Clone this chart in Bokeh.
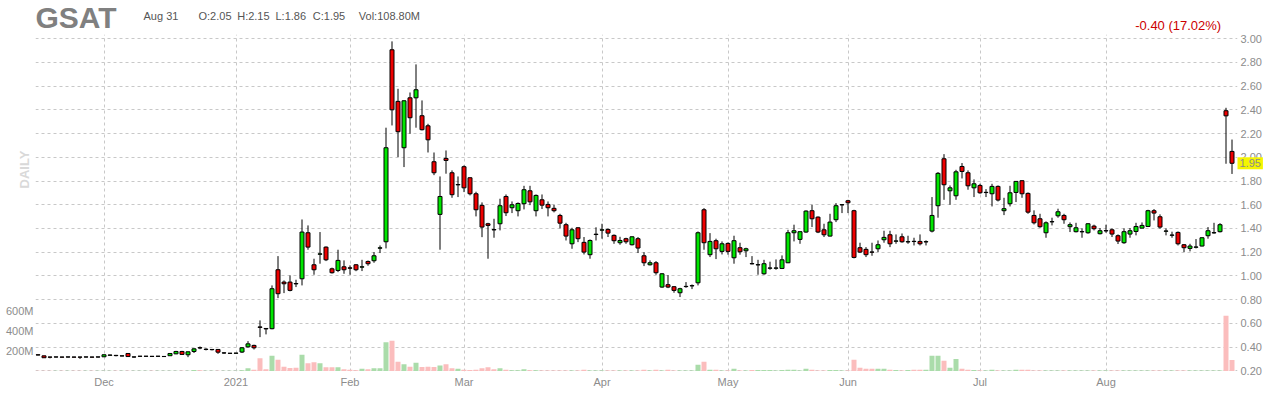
import numpy as np
import pandas as pd
from bokeh.plotting import figure
from bokeh.models import Range1d, LinearAxis, FixedTicker, CustomJSTickFormatter, PrintfTickFormatter, Label, GridBox
from bokeh.core.properties import value
from bokeh.embed import file_html
from bokeh.resources import INLINE

symbol = "GSAT"
holidays = ["2020-11-26", "2020-12-25", "2021-01-01", "2021-01-18",
            "2021-02-15", "2021-04-02", "2021-05-31", "2021-07-05"]
dates = pd.bdate_range("2020-11-13", "2021-08-31")
dates = dates[~dates.isin(pd.to_datetime(holidays))]

opens = [
    0.335, 0.326, 0.316, 0.316, 0.316, 0.316, 0.316, 0.316, 0.316, 0.316,
    0.316, 0.318, 0.331, 0.330, 0.325, 0.346, 0.316, 0.322, 0.322, 0.322,
    0.322, 0.320, 0.327, 0.343, 0.363, 0.335, 0.363, 0.395, 0.380, 0.378,
    0.380, 0.350, 0.347, 0.348, 0.358, 0.402, 0.414, 0.570, 0.557, 0.555,
    1.052, 0.948, 0.948, 0.936, 0.976, 1.364, 1.094, 1.183, 1.243, 1.060,
    1.046, 1.077, 1.068, 1.094, 1.074, 1.122, 1.128, 1.234, 1.288, 2.907,
    2.472, 2.081, 2.502, 2.502, 2.351, 2.266, 1.963, 1.519, 1.991, 1.870,
    1.768, 1.921, 1.828, 1.693, 1.595, 1.440, 1.391, 1.440, 1.670, 1.575,
    1.550, 1.609, 1.718, 1.550, 1.642, 1.603, 1.570, 1.510, 1.432, 1.271,
    1.406, 1.283, 1.179, 1.349, 1.386, 1.392, 1.342, 1.280, 1.314, 1.263,
    1.314, 1.170, 1.094, 1.111, 0.906, 0.926, 0.909, 0.858, 0.910, 0.916,
    0.942, 1.558, 1.179, 1.297, 1.207, 1.274, 1.153, 1.238, 1.212, 1.104,
    1.093, 1.018, 1.065, 1.065, 1.063, 1.111, 1.364, 1.308, 1.370, 1.550,
    1.496, 1.389, 1.336, 1.474, 1.599, 1.634, 1.550, 1.238, 1.224, 1.202,
    1.229, 1.305, 1.347, 1.293, 1.330, 1.287, 1.292, 1.291, 1.287, 1.378,
    1.592, 1.988, 1.718, 1.676, 1.923, 1.870, 1.743, 1.763, 1.703, 1.693,
    1.755, 1.550, 1.609, 1.704, 1.803, 1.696, 1.510, 1.482, 1.364, 1.456,
    1.507, 1.510, 1.415, 1.373, 1.372, 1.364, 1.420, 1.356, 1.380, 1.389,
    1.339, 1.280, 1.353, 1.375, 1.403, 1.417, 1.550, 1.499, 1.377, 1.343,
    1.367, 1.263, 1.232, 1.242, 1.252, 1.339, 1.363, 1.373, 2.393, 2.050,
]
highs = [
    0.338, 0.328, 0.318, 0.318, 0.318, 0.318, 0.318, 0.318, 0.318, 0.318,
    0.318, 0.338, 0.336, 0.334, 0.327, 0.348, 0.320, 0.324, 0.325, 0.325,
    0.325, 0.323, 0.348, 0.368, 0.368, 0.362, 0.390, 0.405, 0.390, 0.383,
    0.383, 0.357, 0.350, 0.351, 0.400, 0.450, 0.420, 0.625, 0.560, 0.920,
    1.167, 0.962, 1.004, 0.968, 1.476, 1.426, 1.145, 1.370, 1.249, 1.070,
    1.221, 1.131, 1.089, 1.100, 1.136, 1.130, 1.201, 1.257, 2.250, 2.978,
    2.578, 2.480, 2.547, 2.784, 2.480, 2.283, 2.041, 1.839, 2.058, 1.890,
    1.839, 1.932, 1.830, 1.710, 1.620, 1.448, 1.482, 1.651, 1.687, 1.628,
    1.620, 1.760, 1.760, 1.687, 1.687, 1.628, 1.600, 1.524, 1.448, 1.406,
    1.410, 1.328, 1.308, 1.410, 1.440, 1.400, 1.350, 1.330, 1.322, 1.333,
    1.328, 1.200, 1.131, 1.125, 1.024, 1.007, 0.914, 0.900, 0.948, 0.928,
    1.375, 1.572, 1.361, 1.314, 1.291, 1.283, 1.339, 1.280, 1.238, 1.167,
    1.136, 1.136, 1.120, 1.139, 1.173, 1.389, 1.432, 1.375, 1.553, 1.600,
    1.502, 1.440, 1.524, 1.614, 1.606, 1.642, 1.558, 1.280, 1.243, 1.280,
    1.299, 1.381, 1.381, 1.350, 1.358, 1.339, 1.322, 1.350, 1.300, 1.665,
    1.876, 2.027, 1.763, 1.895, 1.952, 1.890, 1.814, 1.777, 1.732, 1.777,
    1.763, 1.659, 1.760, 1.797, 1.805, 1.704, 1.553, 1.524, 1.460, 1.491,
    1.567, 1.524, 1.451, 1.448, 1.401, 1.445, 1.432, 1.404, 1.432, 1.401,
    1.350, 1.401, 1.404, 1.448, 1.451, 1.558, 1.564, 1.519, 1.401, 1.373,
    1.375, 1.269, 1.271, 1.311, 1.325, 1.412, 1.448, 1.445, 2.418, 2.150,
]
lows = [
    0.330, 0.308, 0.305, 0.312, 0.312, 0.312, 0.312, 0.300, 0.312, 0.312,
    0.312, 0.316, 0.328, 0.322, 0.322, 0.318, 0.310, 0.319, 0.319, 0.319,
    0.319, 0.318, 0.325, 0.340, 0.335, 0.315, 0.350, 0.382, 0.372, 0.372,
    0.343, 0.343, 0.343, 0.344, 0.350, 0.395, 0.380, 0.484, 0.507, 0.550,
    0.813, 0.855, 0.870, 0.906, 0.920, 1.221, 1.010, 1.103, 1.125, 1.020,
    1.032, 1.018, 1.010, 1.040, 1.041, 1.086, 1.111, 1.193, 1.232, 2.269,
    2.002, 1.918, 2.199, 2.250, 2.227, 2.041, 1.850, 1.221, 1.862, 1.659,
    1.665, 1.707, 1.679, 1.502, 1.327, 1.145, 1.322, 1.384, 1.505, 1.530,
    1.502, 1.561, 1.597, 1.502, 1.564, 1.502, 1.536, 1.401, 1.299, 1.229,
    1.285, 1.181, 1.145, 1.299, 1.314, 1.328, 1.271, 1.263, 1.271, 1.257,
    1.193, 1.083, 1.088, 1.010, 0.900, 0.897, 0.858, 0.822, 0.900, 0.889,
    0.920, 1.221, 1.159, 1.142, 1.181, 1.179, 1.103, 1.179, 1.159, 1.097,
    1.010, 1.010, 1.052, 1.052, 1.058, 1.108, 1.291, 1.271, 1.364, 1.412,
    1.361, 1.328, 1.333, 1.454, 1.530, 1.530, 1.148, 1.193, 1.159, 1.170,
    1.201, 1.280, 1.243, 1.271, 1.280, 1.271, 1.257, 1.257, 1.257, 1.367,
    1.491, 1.642, 1.600, 1.642, 1.822, 1.727, 1.665, 1.693, 1.665, 1.586,
    1.628, 1.513, 1.586, 1.623, 1.659, 1.524, 1.434, 1.406, 1.322, 1.426,
    1.491, 1.440, 1.370, 1.367, 1.322, 1.356, 1.384, 1.350, 1.364, 1.328,
    1.269, 1.271, 1.322, 1.342, 1.403, 1.412, 1.468, 1.398, 1.342, 1.322,
    1.257, 1.201, 1.207, 1.232, 1.249, 1.314, 1.356, 1.367, 1.946, 1.860,
]
closes = [
    0.333, 0.310, 0.315, 0.317, 0.315, 0.317, 0.315, 0.315, 0.317, 0.315,
    0.317, 0.335, 0.333, 0.328, 0.326, 0.320, 0.317, 0.323, 0.323, 0.321,
    0.323, 0.321, 0.346, 0.363, 0.338, 0.360, 0.385, 0.392, 0.382, 0.380,
    0.357, 0.351, 0.348, 0.349, 0.394, 0.427, 0.394, 0.566, 0.553, 0.892,
    0.850, 0.934, 0.878, 0.933, 1.370, 1.243, 1.052, 1.186, 1.136, 1.027,
    1.131, 1.052, 1.065, 1.052, 1.077, 1.103, 1.170, 1.237, 2.081, 2.401,
    2.216, 2.477, 2.334, 2.570, 2.233, 2.148, 1.870, 1.670, 1.974, 1.685,
    1.771, 1.743, 1.693, 1.558, 1.412, 1.426, 1.388, 1.592, 1.533, 1.600,
    1.611, 1.727, 1.625, 1.679, 1.597, 1.575, 1.550, 1.445, 1.336, 1.389,
    1.314, 1.201, 1.299, 1.352, 1.389, 1.361, 1.297, 1.299, 1.288, 1.330,
    1.235, 1.111, 1.111, 1.027, 1.018, 0.906, 0.878, 0.892, 0.912, 0.918,
    1.364, 1.280, 1.291, 1.229, 1.271, 1.207, 1.297, 1.204, 1.229, 1.102,
    1.095, 1.103, 1.067, 1.067, 1.136, 1.364, 1.381, 1.373, 1.547, 1.482,
    1.370, 1.347, 1.454, 1.592, 1.601, 1.617, 1.156, 1.201, 1.179, 1.200,
    1.263, 1.325, 1.271, 1.295, 1.288, 1.289, 1.290, 1.271, 1.289, 1.510,
    1.865, 1.769, 1.743, 1.878, 1.881, 1.760, 1.777, 1.701, 1.705, 1.755,
    1.640, 1.567, 1.701, 1.797, 1.693, 1.538, 1.448, 1.415, 1.448, 1.458,
    1.541, 1.474, 1.432, 1.406, 1.374, 1.440, 1.398, 1.381, 1.382, 1.353,
    1.294, 1.373, 1.381, 1.417, 1.426, 1.550, 1.530, 1.412, 1.379, 1.345,
    1.271, 1.238, 1.252, 1.244, 1.322, 1.381, 1.365, 1.432, 2.350, 1.950,
]
volume_m = [
    2, 2, 2, 2, 2, 2, 2, 2, 2, 2,
    2, 2, 2, 2, 2, 2, 2, 2, 2, 2,
    2, 2, 2, 2, 2, 2, 10, 8, 2, 2,
    2, 2, 2, 2, 7, 27, 13, 127, 17, 153,
    113, 43, 30, 33, 163, 77, 87, 77, 37, 37,
    37, 17, 13, 7, 23, 17, 27, 27, 287, 303,
    93, 67, 43, 83, 40, 43, 40, 55, 67, 27,
    23, 13, 10, 13, 27, 37, 17, 27, 13, 7,
    7, 17, 7, 7, 6, 6, 6, 6, 6, 6,
    6, 13, 6, 6, 6, 6, 6, 6, 6, 6,
    6, 13, 6, 13, 6, 13, 6, 6, 6, 6,
    63, 93, 13, 13, 6, 6, 23, 6, 6, 9,
    9, 9, 9, 6, 9, 13, 13, 6, 23, 13,
    6, 6, 9, 9, 6, 6, 113, 33, 23, 23,
    23, 23, 13, 9, 6, 9, 13, 13, 13, 153,
    153, 103, 33, 120, 23, 13, 10, 6, 6, 13,
    6, 6, 6, 13, 13, 13, 6, 6, 6, 6,
    6, 6, 6, 6, 6, 6, 6, 6, 6, 5,
    5, 5, 5, 5, 5, 5, 5, 5, 5, 5,
    5, 5, 5, 5, 5, 5, 5, 5, 553, 108.8,
]
price_ticks = [round(0.2 * k, 2) for k in range(1, 16)]
volume_ticks = [200, 400, 600]

o = np.array(opens); h = np.array(highs); l = np.array(lows); c = np.array(closes)
v = np.array(volume_m)
x = np.arange(len(dates))
up = c >= o
body_col = np.where(up, "#00e600", "#ee0000")
vol_col = np.where(up, "#aadcaa", "#fbbdbd")

month_idx, month_lbl = [], []
for i in range(1, len(dates)):
    if dates[i].month != dates[i - 1].month:
        month_idx.append(int(i))
        month_lbl.append(str(dates[i].year) if dates[i].month == 1 else dates[i].strftime("%b"))

FONT = "Liberation Sans"
GREY = "#8c8c8c"

# ---- geometry (page pixels) ----
W = 1276
HEAD = 34                     # header strip height
FL, FR, FT, FB = 35, 1237, HEAD, 371
HM = 396 - HEAD               # main figure height
PX_PER_BAR = 6.0
x0 = -2.5 / PX_PER_BAR
x1 = x0 + (FR - FL) / PX_PER_BAR
p_top, p_bot = 3.036, 0.194
ppu = (FB - FT) / (p_top - p_bot)
v_bot = -5.0
v_top = v_bot + (FB - FT) * 10.0

# ---- header strip ----
hd = figure(width=W, height=HEAD, output_backend="svg", toolbar_location=None,
            x_range=Range1d(FL, FR), y_range=Range1d(HEAD, 0),
            x_axis_type=None, y_axis_type=None,
            min_border_left=FL, min_border_right=W - FR, min_border_top=0, min_border_bottom=0)
hd.outline_line_color = None
hd.xgrid.visible = False
hd.ygrid.visible = False

def txt(t, tx, ty, size, color, bold=False, align="left"):
    hd.text(x=[tx], y=[ty], text=[t], text_font=value(FONT), text_font_size=value(size),
            text_color=color, text_font_style="bold" if bold else "normal",
            text_align=align, text_baseline="middle")

hdr_color = "#555555"
txt(symbol, 35, 17.0, "30px", "#808080", bold=True)
txt(dates[-1].strftime("%b %d"), 143, 15.5, "11px", hdr_color)
txt(f"O:{opens[-1]:.2f}", 198, 15.5, "11px", hdr_color)
txt(f"H:{highs[-1]:.2f}", 236.7, 15.5, "11px", hdr_color)
txt(f"L:{lows[-1]:.2f}", 275, 15.5, "11px", hdr_color)
txt(f"C:{closes[-1]:.2f}", 312.3, 15.5, "11px", hdr_color)
txt(f"Vol:{volume_m[-1]:.2f}M", 358.3, 15.5, "11px", hdr_color)
chg = closes[-1] - closes[-2]
pct = abs(chg) / closes[-2] * 100
txt(f"{chg:.2f} ({pct:.2f}%)", 1220.7, 24.8, "13px", "#cc0000", align="right")

# ---- main chart ----
p = figure(width=W, height=HM, output_backend="svg", toolbar_location=None,
           x_range=Range1d(x0, x1), y_range=Range1d(p_bot, p_top),
           y_axis_location="right", min_border_left=FL, min_border_right=W - FR,
           min_border_top=0, min_border_bottom=HM - (FB - FT))
p.outline_line_color = None
p.extra_y_ranges = {"vol": Range1d(v_bot, v_top)}

pax = p.yaxis[0]
pax.ticker = FixedTicker(ticks=price_ticks)
pax.formatter = PrintfTickFormatter(format="%.2f")
vax = LinearAxis(y_range_name="vol", ticker=FixedTicker(ticks=volume_ticks),
                 formatter=CustomJSTickFormatter(code="return tick + 'M'"))
p.add_layout(vax, "left")
xax = p.xaxis[0]
for ax in (pax, vax, xax):
    ax.axis_line_color = None
    ax.major_tick_line_color = None
    ax.minor_tick_line_color = None
    ax.major_tick_out = 0
    ax.major_tick_in = 0
    ax.minor_tick_out = 0
    ax.minor_tick_in = 0
    ax.major_label_text_font = FONT
    ax.major_label_text_font_size = "11px"
    ax.major_label_text_color = GREY
pax.major_label_standoff = 3
vax.major_label_standoff = 2
xax.ticker = FixedTicker(ticks=month_idx)
xax.major_label_overrides = {k: s for k, s in zip(month_idx, month_lbl)}
xax.major_label_standoff = 4

p.ygrid.ticker = FixedTicker(ticks=price_ticks)
p.xgrid.ticker = FixedTicker(ticks=month_idx)
for g in (p.xgrid[0], p.ygrid[0]):
    g.grid_line_color = "#c8c8c8"
    g.grid_line_dash = "3 3"
    g.grid_line_width = 1

p.vbar(x=x, width=5 / 6, top=v, bottom=0, y_range_name="vol",
       fill_color=vol_col, line_color=None)
p.segment(x0=x, y0=h, x1=x, y1=l, line_color="black", line_width=1)
p.vbar(x=x, width=4 / 6, top=np.maximum(o, c), bottom=np.minimum(o, c),
       fill_color=body_col, line_color="black", line_width=1)

# ---- transparent overlay sharing the chart's ranges (for marks in the borders) ----
q = figure(width=W, height=HM, output_backend="svg", toolbar_location=None,
           x_range=p.x_range, y_range=p.y_range, x_axis_type=None, y_axis_type=None,
           min_border_left=FL, min_border_right=W - FR,
           min_border_top=0, min_border_bottom=HM - (FB - FT))
q.outline_line_color = None
q.background_fill_color = None
q.border_fill_color = None
q.xgrid.visible = False
q.ygrid.visible = False

q.add_layout(Label(x=x0 + (24 - FL) / PX_PER_BAR, y=p_top + (FT - 169) / ppu, text="DAILY",
                   text_font=FONT, text_font_size="13px", text_color="#d9d9d9",
                   text_font_style="bold", text_align="center", text_baseline="middle",
                   angle=np.pi / 2), "left")
q.add_layout(Label(x=x1, y=closes[-1], text=f"{closes[-1]:.2f}", text_font=FONT,
                   text_font_size="11px", text_color=GREY, text_baseline="middle",
                   text_align="left", background_fill_color="#f5f500", padding=2), "right")

layout = GridBox(children=[(hd, 0, 0), (p, 1, 0), (q, 1, 0)], spacing=0)
open("out.html", "w").write(file_html(layout, INLINE))
